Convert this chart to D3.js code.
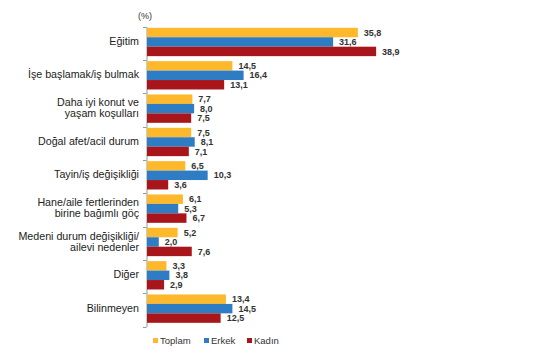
<!DOCTYPE html>
<html><head><meta charset="utf-8">
<script src="https://cdn.jsdelivr.net/npm/d3@7"></script>
<style>body{margin:0;background:#fff;}svg{display:block;font-family:Arial,"Liberation Sans",sans-serif;}</style>
</head><body><svg id="c" width="534" height="355"></svg>
<script>
const categories = [
  ["Eğitim"],
  ["İşe başlamak/iş bulmak"],
  ["Daha iyi konut ve","yaşam koşulları"],
  ["Doğal afet/acil durum"],
  ["Tayin/iş değişikliği"],
  ["Hane/aile fertlerinden","birine bağımlı göç"],
  ["Medeni durum değişikliği/","ailevi nedenler"],
  ["Diğer"],
  ["Bilinmeyen"]
];
const seriesNames = ["Toplam","Erkek","Kadın"];
const toplam = [35.8,14.5,7.7,7.5,6.5,6.1,5.2,3.3,13.4];
const erkek  = [31.6,16.4,8.0,8.1,10.3,5.3,2.0,3.8,14.5];
const kadin  = [38.9,13.1,7.5,7.1,3.6,6.7,7.6,2.9,12.5];
const colors = ["#FDB92B","#2E7CC3","#A8161B"];
const unitLabel = "(%)";

(function(){
const series = [toplam, erkek, kadin];
const svg = d3.select("#c");
const x0 = 147, plotTop = 26.5, plotBottom = 326.5;
const x = d3.scaleLinear().domain([0,40]).range([x0, x0+235.6]);
const y = d3.scaleBand().domain(d3.range(categories.length)).range([plotTop,plotBottom]).paddingInner(0).paddingOuter(0);
const barH = 9.45, groupOff = 1.3;

const axis = d3.axisLeft(y).tickSize(0).tickFormat("");
const g = svg.append("g").attr("transform",`translate(${x0-0.5},0)`).call(axis);
g.select(".domain").attr("stroke","#999").attr("stroke-width",1);
const bounds = d3.range(categories.length+1).map(i=> plotTop + i*y.bandwidth());
svg.selectAll("line.tk").data(bounds).enter().append("line").attr("class","tk")
  .attr("x1",x0-4).attr("x2",x0-0.5).attr("y1",d=>Math.round(d)+0.5).attr("y2",d=>Math.round(d)+0.5)
  .attr("stroke","#999");

series.forEach((vals,si)=>{
  svg.selectAll("rect.s"+si).data(vals).enter().append("rect").attr("class","s"+si)
    .attr("x",x(0)).attr("y",(d,i)=>y(i)+groupOff+si*barH)
    .attr("width",d=>x(d)-x(0)).attr("height",barH).attr("fill",colors[si]);
  svg.selectAll("text.v"+si).data(vals).enter().append("text").attr("class","v"+si)
    .attr("x",d=>x(d)+6).attr("y",(d,i)=>y(i)+groupOff+si*barH+barH/2)
    .attr("dy","0.35em").attr("font-size",9).attr("font-weight","bold").attr("fill","#333")
    .text(d=>d.toFixed(1).replace(".",","));
});

categories.forEach((lines,i)=>{
  const cy = y(i)+y.bandwidth()/2 - 1.8;
  const lh = 11;
  const t = svg.append("text").attr("text-anchor","end").attr("font-size",10.7).attr("fill","#222");
  lines.forEach((l,j)=>{
    t.append("tspan").attr("x",139).attr("y",cy + (j-(lines.length-1)/2)*lh).attr("dy","0.35em").text(l);
  });
});

svg.append("text").attr("x",145).attr("y",16).attr("dy","0.35em").attr("text-anchor","middle")
  .attr("font-size",9).attr("fill","#333").text(unitLabel);

const legX = [153,204,247];
seriesNames.forEach((n,i)=>{
  svg.append("rect").attr("x",legX[i]).attr("y",338).attr("width",5).attr("height",5).attr("fill",colors[i]);
  svg.append("text").attr("x",legX[i]+7).attr("y",340.5).attr("dy","0.35em").attr("font-size",9.5).attr("fill","#333").text(n);
});
})();
</script></body></html>
